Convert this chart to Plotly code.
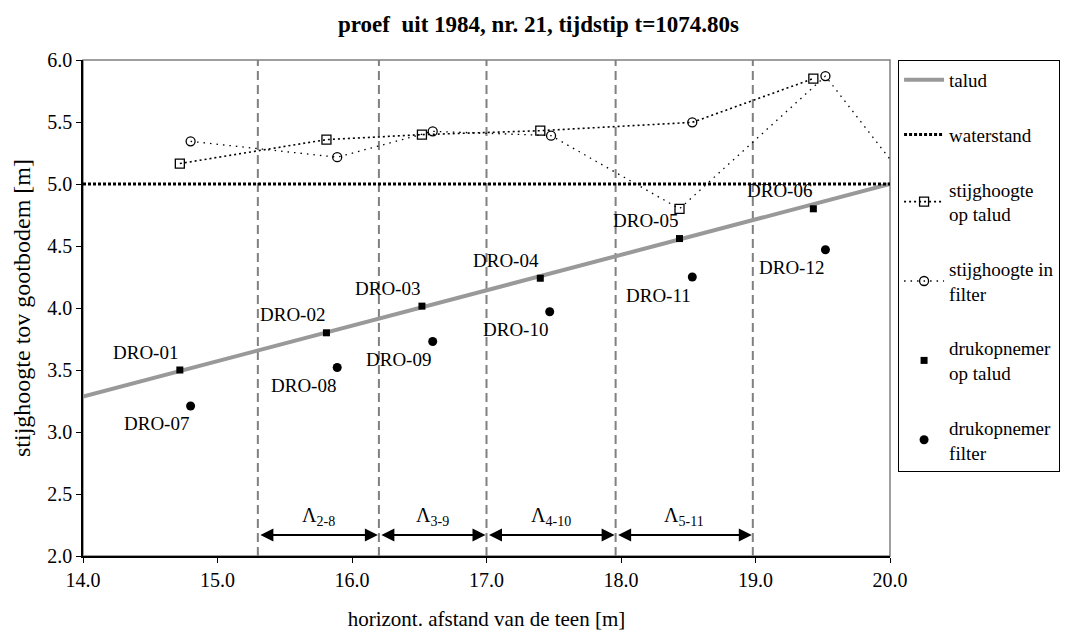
import plotly.graph_objects as go

# Slope (talud) and water level
talud_x = [14.0, 20.0]
talud_y = [3.286, 5.0]
water_x = [14.0, 20.0]
water_y = [5.0, 5.0]

# Piezometric heads (stijghoogte), in drawing order of each series
stijg_talud_x = [14.72, 15.81, 16.52, 17.40, 18.53, 19.43]
stijg_talud_y = [5.165, 5.358, 5.398, 5.43, 5.497, 5.85]
stijg_talud_sym = ["square-open", "square-open", "square-open", "square-open", "circle-open", "square-open"]

stijg_filter_x = [14.80, 15.89, 16.60, 17.48, 18.435, 19.52, 20.15]
stijg_filter_y = [5.344, 5.216, 5.425, 5.39, 4.80, 5.87, 4.99]
stijg_filter_sym = ["circle-open", "circle-open", "circle-open", "circle-open", "square-open", "circle-open", "circle-open"]

# Pressure transducers
druk_talud_names = ["DRO-01", "DRO-02", "DRO-03", "DRO-04", "DRO-05", "DRO-06"]
druk_talud_x = [14.72, 15.81, 16.52, 17.40, 18.435, 19.43]
druk_talud_y = [3.50, 3.80, 4.015, 4.24, 4.56, 4.80]

druk_filter_names = ["DRO-07", "DRO-08", "DRO-09", "DRO-10", "DRO-11", "DRO-12"]
druk_filter_x = [14.80, 15.89, 16.60, 17.47, 18.53, 19.52]
druk_filter_y = [3.21, 3.52, 3.73, 3.97, 4.25, 4.47]

# Section boundaries and spans
boundaries = [15.30, 16.20, 17.00, 17.96, 18.98]
span_labels = ["Λ<sub>2-8</sub>", "Λ<sub>3-9</sub>", "Λ<sub>4-10</sub>", "Λ<sub>5-11</sub>"]
span_level = 2.17
span_label_level = 2.32

FONT = "Liberation Serif, Times New Roman, serif"

fig = go.Figure()

fig.add_trace(go.Scatter(x=talud_x, y=talud_y, mode="lines", name="talud",
                         line=dict(color="#999999", width=4), legendgroup="a"))
fig.add_trace(go.Scatter(x=water_x, y=water_y, mode="lines", name="waterstand",
                         line=dict(color="black", width=3, dash="3px,2px"), legendgroup="b"))
fig.add_trace(go.Scatter(x=stijg_talud_x, y=stijg_talud_y, mode="lines+markers",
                         name="stijghoogte<br>op talud", legendgroup="c",
                         line=dict(color="black", width=1.6, dash="2px,3px"),
                         marker=dict(symbol=stijg_talud_sym, size=9, color="black",
                                     line=dict(width=1.3, color="black"))))
fig.add_trace(go.Scatter(x=stijg_filter_x, y=stijg_filter_y, mode="lines+markers",
                         name="stijghoogte in<br>filter", legendgroup="d",
                         line=dict(color="black", width=1.3, dash="1.5px,5px"),
                         marker=dict(symbol=stijg_filter_sym, size=9, color="black",
                                     line=dict(width=1.3, color="black"))))
fig.add_trace(go.Scatter(x=druk_talud_x, y=druk_talud_y, mode="markers",
                         name="drukopnemer<br>op talud", legendgroup="e",
                         marker=dict(symbol="square", size=7, color="black")))
fig.add_trace(go.Scatter(x=druk_filter_x, y=druk_filter_y, mode="markers",
                         name="drukopnemer<br>filter", legendgroup="f",
                         marker=dict(symbol="circle", size=9, color="black")))

# Vertical dashed boundaries
for bx in boundaries:
    fig.add_shape(type="line", xref="x", yref="y", x0=bx, x1=bx, y0=2.0, y1=6.0,
                  line=dict(color="#808080", width=2, dash="9px,5px"), layer="below")

# Double-headed span arrows with labels
for i, lab in enumerate(span_labels):
    x0, x1 = boundaries[i], boundaries[i + 1]
    fig.add_annotation(x=x1, y=span_level, ax=x0, ay=span_level, xref="x", yref="y",
                       axref="x", ayref="y", text="", showarrow=True,
                       arrowhead=2, arrowside="end+start", arrowsize=1.3,
                       arrowwidth=2, arrowcolor="black", standoff=1, startstandoff=1)
    fig.add_annotation(x=(x0 + x1) / 2, y=span_label_level, xref="x", yref="y",
                       text=lab, showarrow=False, font=dict(family=FONT, size=20, color="black"))

# Sensor labels
for n, xv, yv in zip(druk_talud_names, druk_talud_x, druk_talud_y):
    fig.add_annotation(x=xv, y=yv, text=n, showarrow=False, xshift=-34, yshift=18,
                       font=dict(family=FONT, size=19, color="black"))
for n, xv, yv in zip(druk_filter_names, druk_filter_x, druk_filter_y):
    fig.add_annotation(x=xv, y=yv, text=n, showarrow=False, xshift=-34, yshift=-18,
                       font=dict(family=FONT, size=19, color="black"))

# Plot-area frame
fig.add_shape(type="rect", xref="paper", yref="paper", x0=0, x1=1, y0=0, y1=1,
              line=dict(color="#808080", width=1.5), layer="below")

fig.update_layout(
    width=1077, height=639,
    margin=dict(l=83, r=187, t=60, b=81),
    paper_bgcolor="white", plot_bgcolor="white",
    font=dict(family=FONT, size=19, color="black"),
    title=dict(text="<b>proef  uit 1984, nr. 21, tijdstip t=1074.80s</b>",
               x=0.5, xref="container", xanchor="center",
               y=0.962, yref="container", yanchor="middle",
               font=dict(family=FONT, size=23, color="black")),
    xaxis=dict(range=[14, 20], dtick=1, tickformat=".1f", showgrid=False, zeroline=False,
               showline=True, linecolor="black", linewidth=1.5,
               ticks="outside", ticklen=5, tickcolor="black",
               tickfont=dict(family=FONT, size=20),
               title=dict(text="horizont. afstand van de teen [m]", standoff=22,
                          font=dict(family=FONT, size=21))),
    yaxis=dict(range=[2, 6], dtick=0.5, tickformat=".1f", showgrid=False, zeroline=False,
               showline=True, linecolor="black", linewidth=1.5,
               ticks="outside", ticklen=5, tickcolor="black",
               tickfont=dict(family=FONT, size=20),
               title=dict(text="stijghoogte tov gootbodem [m]", standoff=10,
                          font=dict(family=FONT, size=24))),
    legend=dict(x=1.01, xanchor="left", y=1.0, yanchor="top",
                bordercolor="black", borderwidth=1, bgcolor="white",
                tracegroupgap=27, font=dict(family=FONT, size=19),
                itemwidth=40),
    showlegend=True,
)

fig.write_html("out.html")
